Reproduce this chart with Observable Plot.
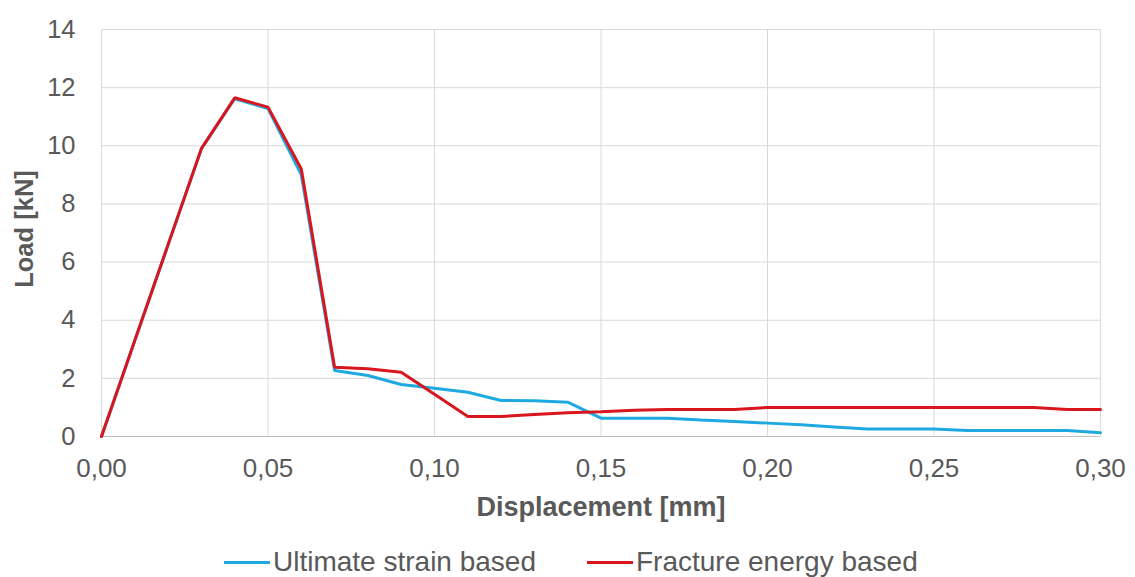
<!DOCTYPE html>
<html>
<head>
<meta charset="utf-8">
<script src="https://cdn.jsdelivr.net/npm/d3@7"></script>
<script src="https://cdn.jsdelivr.net/npm/@observablehq/plot@0.6"></script>
<style>
  html, body { margin: 0; padding: 0; background: #ffffff; }
  body { width: 1135px; height: 577px; position: relative; overflow: hidden;
         font-family: "Liberation Sans", Arial, sans-serif; }
  #legend { position: absolute; left: 224px; top: 546px; display: flex; align-items: center;
            font-size: 28px; line-height: 32px; color: #595959; white-space: nowrap; }
  .item { display: flex; align-items: center; }
  .item + .item { margin-left: 51px; }
  .sw { width: 46px; height: 3px; margin-right: 3px; }
</style>
</head>
<body>
<div id="chart"></div>
<div id="legend"></div>
<script>
// Displacement [mm]
const displacement = [0.00,0.01,0.02,0.03,0.04,0.05,0.06,0.07,0.08,0.09,0.10,
                      0.11,0.12,0.13,0.14,0.15,0.16,0.17,0.18,0.19,0.20,
                      0.21,0.22,0.23,0.24,0.25,0.26,0.27,0.28,0.29,0.30];
// Load [kN] – Ultimate strain based
const ultimateStrain = [0, 3.3, 6.6, 9.9, 11.62, 11.28, 9.0, 2.27, 2.10, 1.79, 1.66,
                        1.52, 1.24, 1.23, 1.18, 0.63, 0.63, 0.63, 0.57, 0.52, 0.46,
                        0.40, 0.33, 0.26, 0.26, 0.26, 0.21, 0.21, 0.21, 0.21, 0.13];
// Load [kN] – Fracture energy based
const fractureEnergy = [0, 3.3, 6.6, 9.9, 11.65, 11.33, 9.2, 2.38, 2.33, 2.21, 1.45,
                        0.69, 0.69, 0.76, 0.82, 0.85, 0.90, 0.93, 0.93, 0.93, 1.00,
                        1.00, 1.00, 1.00, 1.00, 1.00, 1.00, 1.00, 1.00, 0.93, 0.93];
const seriesNames = ["Ultimate strain based", "Fracture energy based"];
const seriesColors = ["#1fa9e1", "#d9161e"];
const xTicks = [0, 0.05, 0.10, 0.15, 0.20, 0.25, 0.30];
const yTicks = [0, 2, 4, 6, 8, 10, 12, 14];
const xTitle = "Displacement [mm]";
const yTitle = "Load [kN]";

const rows = [];
[ultimateStrain, fractureEnergy].forEach((vals, s) => {
  vals.forEach((v, i) => rows.push({x: displacement[i], y: v, series: seriesNames[s]}));
});

const textColor = "#595959";
const chart = Plot.plot({
  width: 1135,
  height: 530,
  marginTop: 29,
  marginBottom: 94,
  marginLeft: 101,
  marginRight: 35,
  style: { fontFamily: "'Liberation Sans', Arial, sans-serif", fontSize: "26px", color: textColor, background: "#ffffff", overflow: "visible" },
  x: { domain: [0, 0.30], ticks: xTicks, label: null },
  y: { domain: [0, 14], ticks: yTicks, label: null },
  color: { domain: seriesNames, range: seriesColors },
  marks: [
    Plot.gridX(xTicks, { stroke: "#d9d9d9", strokeOpacity: 1, strokeWidth: 1 }),
    Plot.gridY(yTicks, { stroke: "#d9d9d9", strokeOpacity: 1, strokeWidth: 1 }),
    Plot.ruleY([0], { stroke: "#bfbfbf", strokeWidth: 1 }),
    Plot.line(rows, { x: "x", y: "y", z: "series", stroke: "series", strokeWidth: 3, strokeLinejoin: "miter" }),
    Plot.axisX(xTicks, { tickSize: 0, tickPadding: 22, tickFormat: d => d.toFixed(2).replace(".", ","), fill: textColor, fontSize: 26, label: null }),
    Plot.axisY(yTicks, { tickSize: 0, tickPadding: 26, fill: textColor, fontSize: 25.5, label: null }),
    Plot.text([xTitle], { frameAnchor: "bottom", dy: 71, text: d => d, fontWeight: "bold", fontSize: 27, fill: textColor, lineAnchor: "middle", textAnchor: "middle" }),
    Plot.text([yTitle], { frameAnchor: "left", dx: -77, dy: -4, text: d => d, rotate: -90, fontWeight: "bold", fontSize: 25.5, fill: textColor, lineAnchor: "middle", textAnchor: "middle" })
  ]
});
document.getElementById("chart").appendChild(chart);

const legend = document.getElementById("legend");
seriesNames.forEach((name, i) => {
  const item = document.createElement("div");
  item.className = "item";
  const sw = document.createElement("span");
  sw.className = "sw";
  sw.style.background = seriesColors[i];
  const label = document.createElement("span");
  label.textContent = name;
  item.appendChild(sw);
  item.appendChild(label);
  legend.appendChild(item);
});
</script>
</body>
</html>
